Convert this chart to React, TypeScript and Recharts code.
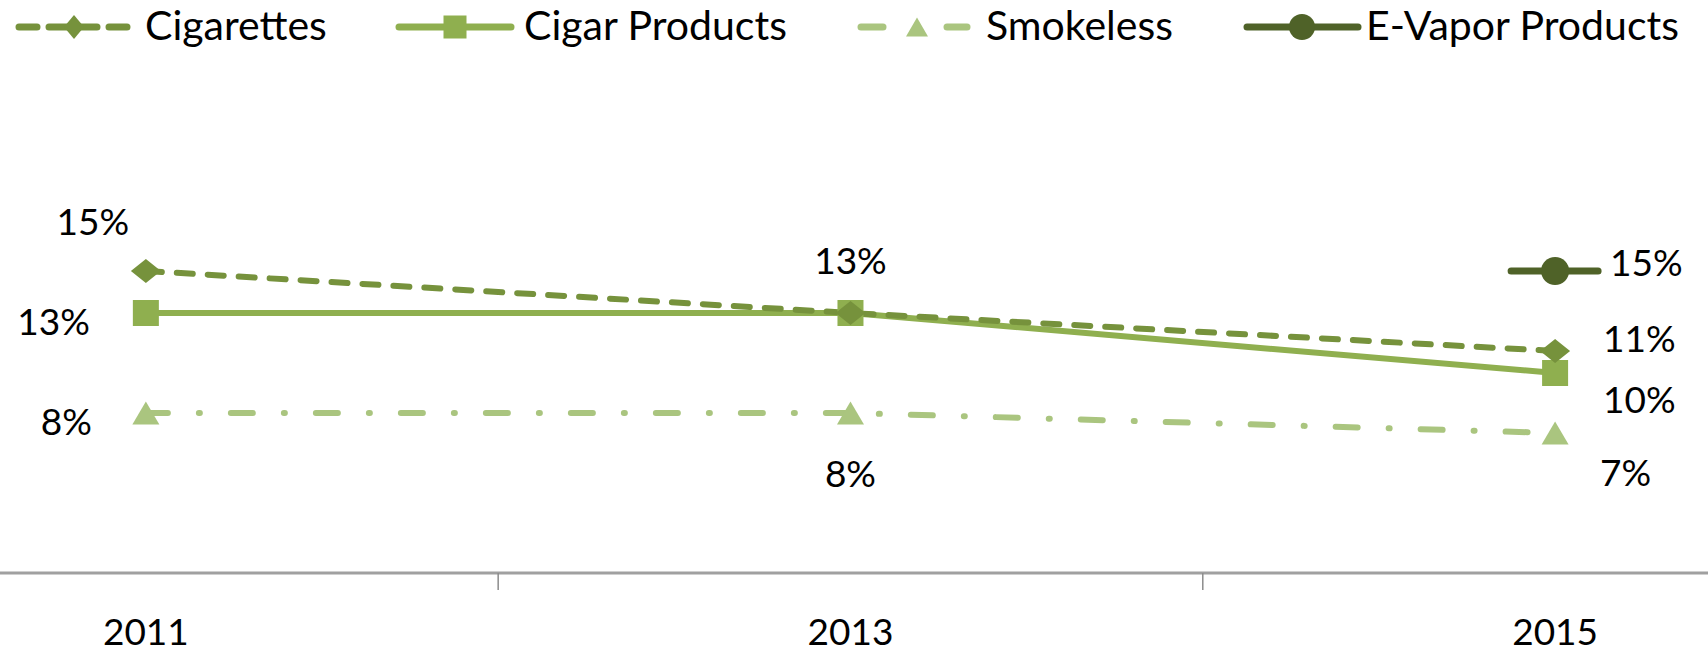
import { LineChart, Line, XAxis, YAxis, Legend, LabelList } from 'recharts';

// values (percent)
const years = ['2011', '2013', '2015'];
const cigarettes = [15.1, 13.0, 11.1];
const cigarProducts = [13.0, 13.0, 10.0];
const smokeless = [8.0, 8.0, 7.0];
const eVapor = [null, null, 15.1];

const data = years.map((year, i) => ({
    x: i,
    year,
    cigarettes: cigarettes[i],
    cigarProducts: cigarProducts[i],
    smokeless: smokeless[i],
    eVapor: eVapor[i],
}));

const FONT = 'Lato, "Noto Sans", sans-serif';
const C_CIG = '#76923c';
const C_CIGAR = '#8faf4f';
const C_SMOKE = '#aac57f';
const C_VAPOR = '#4f6228';

// label placement per point: [dx, dy (to centre), anchor]; null = no label
type Place = [number, number, 'start' | 'middle' | 'end'] | null;
const cigPlaces: Place[] = [[-53, -49, 'middle'], [0, -52, 'middle'], [48, -12, 'start']];
const cigarPlaces: Place[] = [[-56, 9, 'end'], null, [48, 27, 'start']];
const smokePlaces: Place[] = [[-54, 9, 'end'], [0, 61, 'middle'], [45, 40, 'start']];
const vaporPlaces: Place[] = [null, null, [55, -8, 'start']];

const renderLabel = (places: Place[]) => (props: any) => {
    const {x, y, value, index} = props;
    const p = places[index];
    if (!p || value == null || x == null) return null;
    return (
        <text key={`l${index}`} x={x + p[0]} y={y + p[1] + 13} textAnchor={p[2]}
              fontFamily={FONT} fontSize={37} fill="#000">
            {`${Math.round(value)}%`}
        </text>
    );
};

const Diamond = ({cx, cy, w, h, color}: any) => (
    <polygon points={`${cx - w / 2},${cy} ${cx},${cy - h / 2} ${cx + w / 2},${cy} ${cx},${cy + h / 2}`} fill={color}/>
);
const Square = ({cx, cy, s, color}: any) => (
    <rect x={cx - s / 2} y={cy - s / 2} width={s} height={s} fill={color}/>
);
const Triangle = ({cx, cy, w, h, color}: any) => (
    <polygon points={`${cx - w / 2},${cy + h / 2} ${cx},${cy - h / 2} ${cx + w / 2},${cy + h / 2}`} fill={color}/>
);

const diamondDot = (props: any) => props.cx == null || props.value == null
    ? <g key={`d${props.index}`}/>
    : <g key={`d${props.index}`}><Diamond cx={props.cx} cy={props.cy} w={30} h={24} color={C_CIG}/></g>;
const squareDot = (props: any) => props.cx == null || props.value == null
    ? <g key={`s${props.index}`}/>
    : <g key={`s${props.index}`}><Square cx={props.cx} cy={props.cy} s={26} color={C_CIGAR}/></g>;
const triangleDot = (props: any) => props.cx == null || props.value == null
    ? <g key={`t${props.index}`}/>
    : <g key={`t${props.index}`}><Triangle cx={props.cx} cy={props.cy} w={27} h={23} color={C_SMOKE}/></g>;
const vaporDot = (props: any) => props.cx == null || props.value == null
    ? <g key={`v${props.index}`}/>
    : (
        <g key={`v${props.index}`}>
            <line x1={props.cx - 44} x2={props.cx + 43} y1={props.cy} y2={props.cy} stroke={C_VAPOR} strokeWidth={7}
                  strokeLinecap="round"/>
            <circle cx={props.cx} cy={props.cy} r={14} fill={C_VAPOR}/>
        </g>
    );

const LEG_Y = 27;

const LegendContent = () => (
    <svg width={1708} height={60} style={{display: 'block'}}>
        {/* Cigarettes */}
        <line x1={19} x2={130} y1={LEG_Y} y2={LEG_Y} stroke={C_CIG} strokeWidth={7} strokeDasharray="18 12"
              strokeLinecap="round"/>
        <Diamond cx={74} cy={LEG_Y} w={20} h={24} color={C_CIG}/>
        <text x={145} y={40} fontFamily={FONT} fontSize={41} fill="#000">Cigarettes</text>
        {/* Cigar Products */}
        <line x1={399} x2={511} y1={LEG_Y} y2={LEG_Y} stroke={C_CIGAR} strokeWidth={7} strokeLinecap="round"/>
        <Square cx={455} cy={LEG_Y} s={23} color={C_CIGAR}/>
        <text x={524} y={40} fontFamily={FONT} fontSize={41} fill="#000">Cigar Products</text>
        {/* Smokeless */}
        <line x1={861} x2={883} y1={LEG_Y} y2={LEG_Y} stroke={C_SMOKE} strokeWidth={7} strokeLinecap="round"/>
        <line x1={947} x2={967} y1={LEG_Y} y2={LEG_Y} stroke={C_SMOKE} strokeWidth={7} strokeLinecap="round"/>
        <Triangle cx={917} cy={LEG_Y} w={22} h={19} color={C_SMOKE}/>
        <text x={986} y={40} fontFamily={FONT} fontSize={41} fill="#000">Smokeless</text>
        {/* E-Vapor Products */}
        <line x1={1247} x2={1358} y1={LEG_Y} y2={LEG_Y} stroke={C_VAPOR} strokeWidth={7} strokeLinecap="round"/>
        <circle cx={1302} cy={LEG_Y} r={13} fill={C_VAPOR}/>
        <text x={1366} y={40} fontFamily={FONT} fontSize={41} fill="#000">E-Vapor Products</text>
    </svg>
);

const YearTick = (props: any) => {
    const {x, y, payload} = props;
    const v = payload.value;
    if (Number.isInteger(v)) {
        return (
            <text x={x} y={y + 72} textAnchor="middle" fontFamily={FONT} fontSize={37} fill="#000">
                {years[v]}
            </text>
        );
    }
    return <line x1={x} x2={x} y1={y} y2={y + 17} stroke="#8c8c8c" strokeWidth={1.5}/>;
};

export default function App() {
    return (
        <div style={{position: 'absolute', left: 0, top: 0, width: 1708, height: 653, background: '#fff'}}>
            <LineChart width={1708} height={653} data={data} margin={{top: 173, right: 0, left: 0, bottom: 0}}>
                <XAxis dataKey="x" type="number" domain={[-0.207, 2.217]} allowDataOverflow
                       ticks={[0, 0.5, 1, 1.5, 2]} tick={<YearTick/>} tickLine={false} tickSize={0} tickMargin={0}
                       height={80} axisLine={{stroke: '#a0a0a0', strokeWidth: 3}} interval={0}/>
                <YAxis hide domain={[0, 20]} allowDataOverflow/>
                <Legend layout="horizontal" verticalAlign="middle" align="center" content={<LegendContent/>}
                        wrapperStyle={{top: 0, left: 0, width: 1708, height: 60}}/>
                <Line dataKey="smokeless" stroke={C_SMOKE} strokeWidth={6} strokeDasharray="22 31 1 31"
                      strokeLinecap="round" dot={triangleDot} activeDot={false} isAnimationActive={false}>
                    <LabelList dataKey="smokeless" content={renderLabel(smokePlaces)}/>
                </Line>
                <Line dataKey="cigarProducts" stroke={C_CIGAR} strokeWidth={6} dot={squareDot} activeDot={false}
                      isAnimationActive={false}>
                    <LabelList dataKey="cigarProducts" content={renderLabel(cigarPlaces)}/>
                </Line>
                <Line dataKey="cigarettes" stroke={C_CIG} strokeWidth={6} strokeDasharray="16 15"
                      strokeLinecap="round" dot={diamondDot} activeDot={false} isAnimationActive={false}>
                    <LabelList dataKey="cigarettes" content={renderLabel(cigPlaces)}/>
                </Line>
                <Line dataKey="eVapor" stroke={C_VAPOR} strokeWidth={6} dot={vaporDot} activeDot={false}
                      isAnimationActive={false}>
                    <LabelList dataKey="eVapor" content={renderLabel(vaporPlaces)}/>
                </Line>
            </LineChart>
        </div>
    );
}
